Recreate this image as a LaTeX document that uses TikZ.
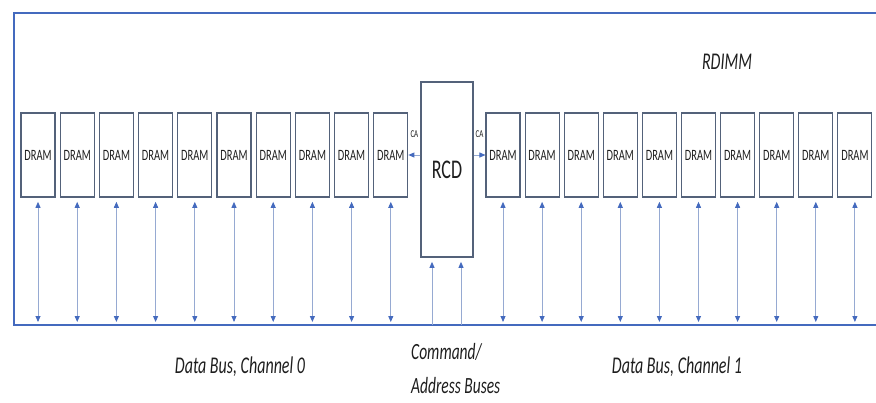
\documentclass[tikz,border=0pt]{standalone}
\usepackage{fontspec}
\setmainfont{Carlito}
\usetikzlibrary{arrows.meta}

\definecolor{buscol}{RGB}{68,106,190}
\definecolor{boxcol}{RGB}{84,98,122}
\definecolor{wirecol}{RGB}{150,170,210}
\definecolor{txtcol}{RGB}{30,30,30}

\tikzset{
  tall/.style={yscale=1.5,text=txtcol},
  dram/.style={tall,draw=boxcol,line width=1.1pt,minimum width=34pt,minimum height=56pt,inner sep=0pt,font=\fontsize{10.5}{12}\selectfont},
  rcdbox/.style={tall,draw=boxcol,line width=1.1pt,minimum width=52pt,minimum height=116.7pt,inner sep=0pt,font=\fontsize{18}{20}\selectfont},
  wire/.style={wirecol,line width=0.9pt},
  onetip/.style={-{Triangle[width=5pt,length=6pt,color=buscol]}},
  bothtips/.style={{Triangle[width=5pt,length=6pt,color=buscol]}-{Triangle[width=5pt,length=6pt,color=buscol]}},
  label/.style={tall,font=\fontsize{16}{19}\selectfont\itshape}
}

\begin{document}
\begin{tikzpicture}[x=1pt,y=-1pt]
  \useasboundingbox (0,0) rectangle (876,402);

  % module outline and bus
  \draw[buscol,line width=1.8pt] (876,13) -- (14,13) -- (14,325) -- (876,325);
  \node[label] (rdimm) at (727,62) {RDIMM};

  % register clock driver
  \node[rcdbox] (rcd) at (447,169.5) {RCD};

  % DRAMs, channel 0 and channel 1
  \foreach \i in {0,...,9} {
    \node[dram] (dl\i) at ({38+39.2*\i},155) {DRAM};
    \node[dram] (dr\i) at ({503+39.1*\i},155) {DRAM};
    \coordinate (bl\i) at ({38+39.2*\i},325);
    \coordinate (br\i) at ({503+39.1*\i},325);
    \draw[wire,bothtips,shorten <=4pt,shorten >=3pt] (dl\i.south) -- (bl\i);
    \draw[wire,bothtips,shorten <=4pt,shorten >=3pt] (dr\i.south) -- (br\i);
  }

  % CA outputs
  \draw[wire,onetip] (rcd.west |- dl9.east) -- (dl9.east)
      node[tall,midway,above=8pt,font=\fontsize{7}{8}\selectfont] (cal) {CA};
  \draw[wire,onetip] (rcd.east |- dr0.west) -- (dr0.west)
      node[tall,midway,above=8pt,font=\fontsize{7}{8}\selectfont] (car) {CA};

  % command/address inputs
  \coordinate (cb0) at (432,325);
  \coordinate (cb1) at (461,325);
  \draw[wire,onetip,shorten >=4pt] (cb0) -- (cb0 |- rcd.south);
  \draw[wire,onetip,shorten >=4pt] (cb1) -- (cb1 |- rcd.south);

  \node[label] (ch0) at (240,367) {Data Bus, Channel 0};
  \node[label] (ch1) at (677,367) {Data Bus, Channel 1};
  \node[label,anchor=north west,align=left,inner sep=0pt,font=\fontsize{15.5}{23}\selectfont\itshape] (cmd) at (411,343) {Command/\\Address Buses};
\end{tikzpicture}
\end{document}
